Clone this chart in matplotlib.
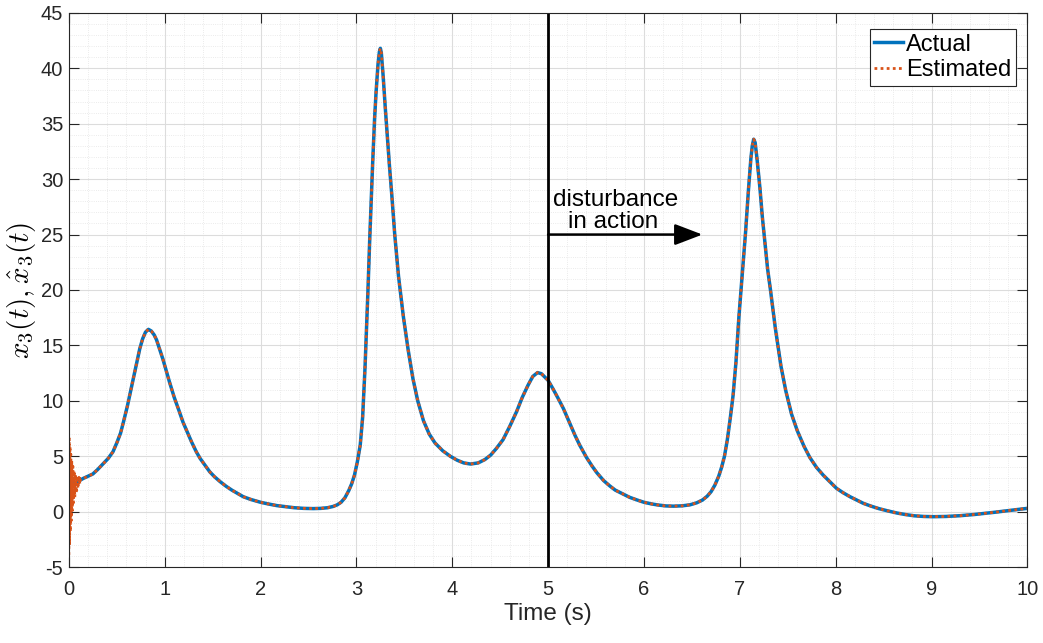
import matplotlib.pyplot as plt
from matplotlib.ticker import MultipleLocator

plt.rcParams['font.family'] = ['Liberation Sans', 'DejaVu Sans']
plt.rcParams['mathtext.fontset'] = 'cm'
plt.rcParams['axes.unicode_minus'] = False

# actual state x3(t)
t_actual = [0.00, 0.05, 0.10, 0.15, 0.20, 0.25, 0.30, 0.36, 0.41, 0.46, 0.50, 0.54,
            0.57, 0.61, 0.65, 0.70, 0.74, 0.77, 0.80, 0.83, 0.86, 0.89, 0.915, 0.95,
            0.98, 1.02, 1.05, 1.10, 1.15, 1.19, 1.24, 1.28, 1.33, 1.37, 1.42, 1.47,
            1.52, 1.58, 1.64, 1.70, 1.76, 1.82, 1.90, 2.00, 2.08, 2.17, 2.26, 2.35,
            2.45, 2.55, 2.63, 2.70, 2.76, 2.80, 2.84, 2.88, 2.92, 2.95, 2.98, 3.01,
            3.04, 3.065, 3.09, 3.12, 3.14, 3.17, 3.19, 3.205, 3.225, 3.24, 3.25, 3.26,
            3.28, 3.30, 3.32, 3.345, 3.37, 3.40, 3.44, 3.49, 3.54, 3.59, 3.64, 3.70,
            3.76, 3.82, 3.90, 3.98, 4.05, 4.12, 4.19, 4.27, 4.34, 4.40, 4.46, 4.53,
            4.60, 4.67, 4.73, 4.79, 4.84, 4.89, 4.93, 4.97, 5.00, 5.05, 5.10, 5.16,
            5.22, 5.28, 5.33, 5.40, 5.46, 5.51, 5.58, 5.64, 5.70, 5.78, 5.85, 5.93,
            6.00, 6.08, 6.15, 6.23, 6.31, 6.40, 6.48, 6.55, 6.61, 6.66, 6.70, 6.74,
            6.78, 6.81, 6.84, 6.87, 6.90, 6.93, 6.96, 6.99, 7.02, 7.06, 7.09, 7.115,
            7.13, 7.145, 7.16, 7.18, 7.21, 7.235, 7.255, 7.29, 7.32, 7.37, 7.43, 7.48,
            7.54, 7.60, 7.67, 7.73, 7.80, 7.87, 7.94, 8.01, 8.08, 8.15, 8.22, 8.29,
            8.37, 8.45, 8.54, 8.64, 8.73, 8.82, 8.92, 9.02, 9.15, 9.30, 9.45, 9.55,
            9.65, 9.80, 9.90, 10.0]
x3_actual = [2.3, 2.5, 2.75, 3.0, 3.2, 3.4, 3.8, 4.35, 4.8, 5.4, 6.2, 7.1,
             8.1, 9.5, 11.1, 13.1, 14.7, 15.6, 16.2, 16.45, 16.3, 15.95, 15.5, 14.6,
             13.8, 12.6, 11.7, 10.3, 9.1, 8.1, 7.1, 6.3, 5.4, 4.8, 4.2, 3.6,
             3.15, 2.7, 2.3, 1.95, 1.65, 1.35, 1.1, 0.85, 0.7, 0.55, 0.45, 0.36,
             0.3, 0.28, 0.3, 0.36, 0.48, 0.62, 0.85, 1.25, 1.9, 2.5, 3.3, 4.5,
             6.0, 8.5, 13.0, 19.8, 24.8, 31.5, 35.5, 37.8, 40.3, 41.5, 41.8, 41.4,
             39.2, 36.6, 34.2, 31.2, 28.5, 25.0, 21.2, 17.6, 14.6, 12.0, 10.0, 8.2,
             7.0, 6.2, 5.5, 5.0, 4.65, 4.4, 4.3, 4.4, 4.7, 5.1, 5.7, 6.5,
             7.7, 9.0, 10.3, 11.4, 12.2, 12.55, 12.45, 12.1, 11.85, 11.1, 10.3, 9.3,
             8.1, 6.9, 6.0, 4.9, 4.1, 3.5, 2.8, 2.35, 1.95, 1.6, 1.3, 1.05,
             0.85, 0.7, 0.6, 0.52, 0.5, 0.53, 0.62, 0.8, 1.05, 1.4, 1.8, 2.4,
             3.2, 4.0, 5.0, 6.5, 8.4, 10.5, 13.5, 17.5, 20.8, 25.2, 29.0, 31.8,
             33.0, 33.6, 33.3, 31.8, 29.2, 26.6, 24.9, 21.9, 20.0, 16.6, 13.1, 10.9,
             8.8, 7.3, 5.9, 4.9, 4.0, 3.3, 2.7, 2.1, 1.7, 1.35, 1.05, 0.75,
             0.5, 0.28, 0.08, -0.12, -0.26, -0.37, -0.43, -0.45, -0.43, -0.36, -0.25, -0.16,
             -0.06, 0.1, 0.2, 0.3]

# observer transient at the start, then it follows the actual state
t_transient = [0.000, 0.004, 0.008, 0.012, 0.016, 0.020, 0.025, 0.030, 0.036, 0.042,
               0.048, 0.055, 0.062, 0.070, 0.078, 0.086, 0.095, 0.105, 0.115, 0.125]
x3_transient = [-3.9, 6.6, -3.0, 5.9, -1.8, 5.2, -0.8, 4.6, 0.1, 4.1,
                0.8, 3.7, 1.3, 3.4, 1.7, 3.2, 2.1, 3.1, 2.5, 3.0]

t_est = t_transient + [t for t in t_actual if t > 0.13]
x3_est = x3_transient + [v for t, v in zip(t_actual, x3_actual) if t > 0.13]

t_disturb = 5.0

fig = plt.figure(figsize=(10.43, 6.43), dpi=100)
ax = fig.add_axes([0.066, 0.118, 0.919, 0.862])

ax.plot(t_actual, x3_actual, color='#0072BD', lw=2.5, label='Actual')
ax.plot(t_est, x3_est, color='#D95319', lw=2, ls=(0, (1, 1.2)), label='Estimated')
ax.axvline(t_disturb, color='black', lw=2)

ax.annotate('', xy=(6.61, 25), xytext=(t_disturb, 25),
            arrowprops=dict(arrowstyle='-|>,head_length=1.7,head_width=0.65',
                            color='black', lw=1.8, shrinkA=0, shrinkB=0))
ax.text(5.705, 27.6, 'disturbance', ha='center', va='baseline', fontsize=17.5)
ax.text(5.675, 25.6, 'in action', ha='center', va='baseline', fontsize=17.5)

ax.set_xlim(0, 10)
ax.set_ylim(-5, 45)
ax.xaxis.set_major_locator(MultipleLocator(1))
ax.yaxis.set_major_locator(MultipleLocator(5))
ax.xaxis.set_minor_locator(MultipleLocator(0.2))
ax.yaxis.set_minor_locator(MultipleLocator(1))
ax.grid(which='major', color='#dcdcdc', lw=0.8)
ax.grid(which='minor', color='#e4e4e4', lw=0.6, ls=':')
ax.set_axisbelow(True)
ax.tick_params(which='major', direction='in', length=7, labelsize=14.5, colors='#262626',
               top=True, right=True)
ax.tick_params(axis='x', pad=9)
ax.tick_params(axis='y', pad=4)
ax.tick_params(which='minor', length=0)
for s in ax.spines.values():
    s.set_color('#262626')
    s.set_linewidth(0.8)

ax.set_xlabel('Time (s)', fontsize=17.5, color='#262626', labelpad=3)
ax.set_ylabel(r'$x_3(t), \hat{x}_3(t)$', fontsize=21, labelpad=2)

leg = ax.legend(loc='upper right', bbox_to_anchor=(0.9885, 0.9711), borderaxespad=0,
                fontsize=17, handlelength=1.2, handletextpad=0.15, borderpad=0.2,
                labelspacing=0.15, fancybox=False, framealpha=1)
leg.get_frame().set_edgecolor('#262626')
leg.get_frame().set_linewidth(0.8)

fig.savefig('out.png', dpi=100)
